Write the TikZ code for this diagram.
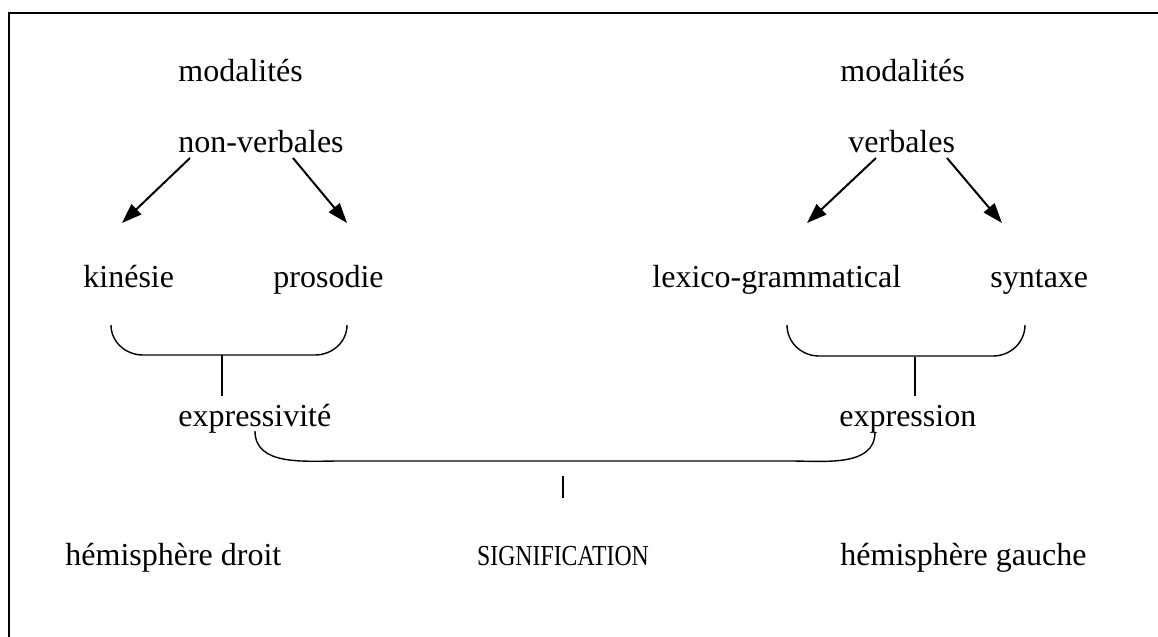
\documentclass[tikz,border=0pt]{standalone}
\usepackage{fontspec}
\setmainfont{Liberation Serif}
\usetikzlibrary{arrows.meta,calc}
\begin{document}
\begin{tikzpicture}[x=0.5pt,y=-0.5pt,
  lbl/.style={inner sep=0pt,anchor=base west,font=\fontsize{16pt}{19pt}\selectfont},
  arr/.style={line width=1pt,-{Triangle[length=10pt,width=7pt]}},
  brace/.style={line width=0.7pt},
  frame/.style={line width=1.2pt}]
\useasboundingbox (0,0) rectangle (1158,637);
\draw[frame] (9,637) -- (9,13) -- (1158,13);
% nodes
\node[lbl] (mod1) at (178,82) {modalités};
\node[lbl] (nv) at (178,152) {non-verbales};
\node[lbl] (mod2) at (840,82) {modalités};
\node[lbl] (verb) at (848,152) {verbales};
\node[lbl] (kin) at (83,287) {kinésie};
\node[lbl] (pros) at (273,287) {prosodie};
\node[lbl] (lex) at (652,287) {lexico-grammatical};
\node[lbl] (syn) at (990,287) {syntaxe};
\node[lbl] (expv) at (178,426) {expressivité};
\node[lbl] (expr) at (839,426) {expression};
\node[lbl] (hd) at (65,565) {hémisphère droit};
\node[lbl,anchor=base,font=\fontsize{14.5pt}{17pt}\selectfont] (sig) at (563,565) {\scalebox{0.82}[1]{SIGNIFICATION}};
\node[lbl] (hg) at (840,565) {hémisphère gauche};
% arrows
\draw[arr] ($(nv.base west)+(12,6)$) -- ($(kin.base west)+(39,-64)$);
\draw[arr] ($(nv.base west)+(115,6)$) -- ($(pros.base west)+(74,-64)$);
\draw[arr] ($(verb.base west)+(28,6)$) -- ($(lex.base west)+(155,-64)$);
\draw[arr] ($(verb.base west)+(99,6)$) -- ($(syn.base west)+(12,-64)$);
% left brace
\coordinate (lb1) at ($(kin.base west)+(28,38)$);
\coordinate (lb2) at ($(pros.base west)+(74,38)$);
\coordinate (lbm) at ($(expv.base west)+(44,-71)$);
\draw[brace] (lb1) to[out=-90,in=180] ($(lb1)+(32,30)$) -- ($(lb2)+(-32,30)$) to[out=0,in=-90] (lb2);
\draw[brace] (lbm) -- ($(expv.base west)+(44,-30)$);
% right brace
\coordinate (rb1) at ($(lex.base west)+(135,38)$);
\coordinate (rb2) at ($(syn.base west)+(35,38)$);
\coordinate (rbm) at ($(expr.base west)+(76,-69)$);
\draw[brace] (rb1) to[out=-90,in=180] ($(rb1)+(32,31)$) -- ($(rb2)+(-32,31)$) to[out=0,in=-90] (rb2);
\draw[brace] (rbm) -- ($(expr.base west)+(76,-30)$);
% big brace
\coordinate (bb1) at ($(expv.base west)+(77,5)$);
\coordinate (bb2) at ($(expr.base west)+(36,6)$);
\draw[brace] (bb1) to[out=-90,in=180] ($(bb1)+(85,30)$) -- ($(bb2)+(-85,29)$) to[out=0,in=-90] (bb2);
\draw[brace] ($(sig.base)+(0,-89)$) -- ($(sig.base)+(0,-67)$);
\end{tikzpicture}
\end{document}
